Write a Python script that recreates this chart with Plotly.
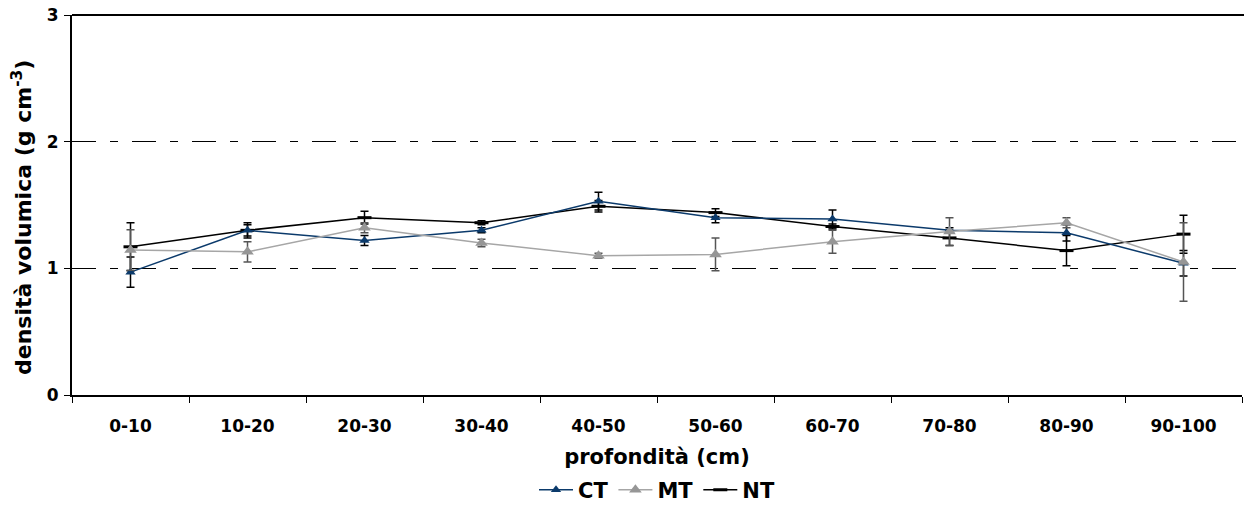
import plotly.graph_objects as go

categories = ["0-10", "10-20", "20-30", "30-40", "40-50", "50-60", "60-70", "70-80", "80-90", "90-100"]
ct_values = [0.97, 1.30, 1.22, 1.30, 1.53, 1.40, 1.39, 1.30, 1.28, 1.04]
ct_errors = [0.12, 0.045, 0.04, 0.02, 0.07, 0.04, 0.07, 0.02, 0.065, 0.10]
mt_values = [1.145, 1.13, 1.32, 1.20, 1.10, 1.11, 1.21, 1.29, 1.36, 1.05]
mt_errors = [0.16, 0.08, 0.04, 0.03, 0.02, 0.13, 0.09, 0.11, 0.04, 0.31]
nt_values = [1.17, 1.30, 1.40, 1.36, 1.49, 1.44, 1.33, 1.24, 1.14, 1.27]
nt_errors = [0.19, 0.06, 0.05, 0.015, 0.045, 0.03, 0.02, 0.06, 0.12, 0.15]
y_ticks = [0, 1, 2, 3]

FONT = "DejaVu Sans"

fig = go.Figure()

fig.add_trace(go.Scatter(
    x=categories, y=nt_values, name="<b>NT</b>", mode="lines+markers",
    line=dict(color="#000000", width=1.5),
    marker=dict(symbol="line-ew", size=10, line=dict(color="#000000", width=3)),
    error_y=dict(type="data", array=nt_errors, color="#000000", thickness=1.5, width=4),
    legendrank=3,
))
fig.add_trace(go.Scatter(
    x=categories, y=ct_values, name="<b>CT</b>", mode="lines+markers",
    line=dict(color="#0B3A6B", width=1.5),
    marker=dict(symbol="triangle-up", size=9, color="#0B3A6B"),
    error_y=dict(type="data", array=ct_errors, color="#000000", thickness=1.5, width=4),
    legendrank=1,
))
fig.add_trace(go.Scatter(
    x=categories, y=mt_values, name="<b>MT</b>", mode="lines+markers",
    line=dict(color="#A6A6A6", width=1.5),
    marker=dict(symbol="triangle-up", size=11, color="#969696"),
    error_y=dict(type="data", array=mt_errors, color="#555555", thickness=1.5, width=4),
    legendrank=2,
))

fig.update_layout(
    width=1244, height=519,
    margin=dict(l=72, r=2, t=15, b=124),
    paper_bgcolor="white", plot_bgcolor="white",
    font=dict(family=FONT, size=17, color="#000000"),
    showlegend=True,
    legend=dict(orientation="h", x=0.5, xanchor="center", y=-0.25, yanchor="middle",
                font=dict(family=FONT, size=21, color="#000000"),
                itemwidth=34, tracegroupgap=0),
    xaxis=dict(
        type="category", categoryorder="array", categoryarray=categories,
        range=[-0.5, 9.5],
        tickmode="array", tickvals=categories,
        ticktext=["<b>%s</b>" % c for c in categories],
        tickson="boundaries", ticks="outside", ticklen=6, tickwidth=1, tickcolor="#000000",
        showline=True, linecolor="#000000", linewidth=2,
        showgrid=False, zeroline=False,
        tickfont=dict(family=FONT, size=17),
        ticklabelstandoff=15,
        title=dict(text="<b>profondità (cm)</b>", font=dict(family=FONT, size=21), standoff=14),
    ),
    yaxis=dict(
        range=[0, 3], tickmode="array", tickvals=y_ticks,
        ticktext=["<b>%d</b>" % v for v in y_ticks],
        ticks="outside", ticklen=6, tickwidth=1, tickcolor="#000000",
        showline=True, linecolor="#000000", linewidth=2,
        showgrid=True, gridcolor="#000000", gridwidth=1, griddash="24px,14px,8px,14px",
        zeroline=False,
        tickfont=dict(family=FONT, size=17),
        ticklabelstandoff=2,
    ),
    annotations=[dict(
        text="<b>densità volumica (g cm<sup>-3</sup>)</b>", textangle=-90,
        xref="paper", yref="paper", x=-0.0427, y=0.466,
        xanchor="center", yanchor="middle", showarrow=False,
        font=dict(family=FONT, size=22, color="#000000"),
    )],
    shapes=[dict(type="line", xref="paper", yref="paper", x0=0, x1=1.002, y0=1, y1=1,
                 line=dict(color="#000000", width=2))],
)

fig.write_html("out.html")
